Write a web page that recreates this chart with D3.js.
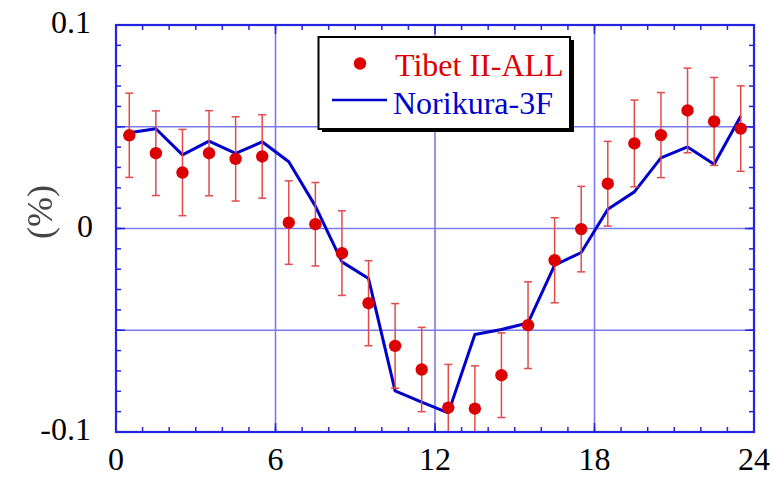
<!DOCTYPE html>
<html>
<head>
<meta charset="utf-8">
<script src="https://cdn.jsdelivr.net/npm/d3@7"></script>
<style>
  body { margin: 0; background: #fff; }
  svg { display: block; }
  text { font-family: "Liberation Serif", "Times New Roman", serif; }
</style>
</head>
<body>
<svg></svg>
<script>
const hours = [0.5, 1.5, 2.5, 3.5, 4.5, 5.5, 6.5, 7.5, 8.5, 9.5, 10.5, 11.5,
    12.5, 13.5, 14.5, 15.5, 16.5, 17.5, 18.5, 19.5, 20.5, 21.5, 22.5, 23.5];
const tibet = [0.0458, 0.037, 0.0275, 0.037, 0.0342, 0.0354, 0.0029, 0.0021,
    -0.0121, -0.0367, -0.0577, -0.0693, -0.088, -0.0885, -0.0721, -0.0475,
    -0.0156, -0.0003, 0.022, 0.0418, 0.0459, 0.058, 0.0526, 0.0491];
const tibetErr = [0.0207, 0.0208, 0.0212, 0.0209, 0.0207, 0.0205, 0.0205, 0.0205,
    0.0208, 0.0209, 0.0208, 0.0207, 0.0212, 0.021, 0.0208, 0.0213,
    0.0209, 0.021, 0.0208, 0.0213, 0.0209, 0.0208, 0.0216, 0.021];
const norikura = [0.047, 0.049, 0.0362, 0.0429, 0.0369, 0.0426, 0.0328, 0.011,
    -0.0164, -0.0246, -0.0798, -0.0853, -0.0906, -0.0521, -0.0496, -0.0464,
    -0.018, -0.0118, 0.0095, 0.018, 0.0347, 0.0401, 0.0316, 0.0552];

const xTicks = [0, 6, 12, 18, 24];
const yTicks = [-0.1, -0.05, 0, 0.05, 0.1];
const yLabels = {'-0.1': '-0.1', '0': '0', '0.1': '0.1'};

const W = 782, H = 477;
const pLeft = 116, pRight = 754, pTop = 25, pBottom = 432;

const svg = d3.select('svg')
    .attr('width', W)
    .attr('height', H);

const x = d3.scaleLinear().domain([0, 24]).range([pLeft, pRight]);
const y = d3.scaleLinear().domain([-0.1, 0.1]).range([pBottom, pTop]);

const gridColor = '#7b7bee';
const frameColor = '#2424e0';

// grid
svg.append('g').selectAll('line')
    .data([6, 12, 18])
    .join('line')
    .attr('x1', d => x(d)).attr('x2', d => x(d))
    .attr('y1', pTop).attr('y2', pBottom)
    .attr('stroke', gridColor).attr('stroke-width', 1.6);
svg.append('g').selectAll('line')
    .data([-0.05, 0, 0.05])
    .join('line')
    .attr('x1', pLeft).attr('x2', pRight)
    .attr('y1', d => y(d)).attr('y2', d => y(d))
    .attr('stroke', gridColor).attr('stroke-width', 1.6);

// ticks (inward) on all four sides
const minorX = d3.range(0, 25, 1);
const minorY = d3.range(-10, 11, 1).map(d => d / 100);

function tickSet(side, vals, size) {
    const sel = svg.append('g').selectAll('line').data(vals).join('line')
        .attr('stroke', frameColor).attr('stroke-width', 1.5);
    if (side === 'bottom') sel.attr('x1', d => x(d)).attr('x2', d => x(d)).attr('y1', pBottom).attr('y2', pBottom - size);
    if (side === 'top') sel.attr('x1', d => x(d)).attr('x2', d => x(d)).attr('y1', pTop).attr('y2', pTop + size);
    if (side === 'left') sel.attr('y1', d => y(d)).attr('y2', d => y(d)).attr('x1', pLeft).attr('x2', pLeft + size);
    if (side === 'right') sel.attr('y1', d => y(d)).attr('y2', d => y(d)).attr('x1', pRight).attr('x2', pRight - size);
}
['bottom', 'top'].forEach(s => { tickSet(s, minorX, 5); tickSet(s, xTicks, 9); });
['left', 'right'].forEach(s => { tickSet(s, minorY, 5); tickSet(s, yTicks, 9); });

// plot clip
svg.append('clipPath').attr('id', 'plot')
    .append('rect').attr('x', pLeft).attr('y', pTop)
    .attr('width', pRight - pLeft).attr('height', pBottom - pTop);

const plot = svg.append('g').attr('clip-path', 'url(#plot)');

// Norikura line
plot.append('path')
    .datum(hours.map((h, i) => [h, norikura[i]]))
    .attr('fill', 'none')
    .attr('stroke', '#0000cc')
    .attr('stroke-width', 3)
    .attr('stroke-linejoin', 'round')
    .attr('d', d3.line().x(d => x(d[0])).y(d => y(d[1])));

// error bars
const errColor = '#e24a4a';
const eb = plot.append('g').selectAll('g')
    .data(hours.map((h, i) => ({h, v: tibet[i], e: tibetErr[i]})))
    .join('g');
eb.append('line')
    .attr('x1', d => x(d.h)).attr('x2', d => x(d.h))
    .attr('y1', d => y(d.v + d.e)).attr('y2', d => y(d.v - d.e))
    .attr('stroke', errColor).attr('stroke-width', 1.5);
eb.append('line')
    .attr('x1', d => x(d.h) - 4).attr('x2', d => x(d.h) + 4)
    .attr('y1', d => y(d.v + d.e)).attr('y2', d => y(d.v + d.e))
    .attr('stroke', errColor).attr('stroke-width', 1.5);
eb.append('line')
    .attr('x1', d => x(d.h) - 4).attr('x2', d => x(d.h) + 4)
    .attr('y1', d => y(d.v - d.e)).attr('y2', d => y(d.v - d.e))
    .attr('stroke', errColor).attr('stroke-width', 1.5);

// Tibet dots
plot.append('g').selectAll('circle')
    .data(hours.map((h, i) => [h, tibet[i]]))
    .join('circle')
    .attr('cx', d => x(d[0]))
    .attr('cy', d => y(d[1]))
    .attr('r', 6.2)
    .attr('fill', '#dd0000');

// frame
svg.append('rect')
    .attr('x', pLeft).attr('y', pTop)
    .attr('width', pRight - pLeft).attr('height', pBottom - pTop)
    .attr('fill', 'none')
    .attr('stroke', frameColor)
    .attr('stroke-width', 2.2);

// tick labels
svg.append('g').selectAll('text')
    .data(xTicks)
    .join('text')
    .attr('x', d => x(d))
    .attr('y', 470)
    .attr('text-anchor', 'middle')
    .attr('font-size', 32)
    .attr('fill', '#000')
    .text(d => d);

svg.append('g').selectAll('text')
    .data(yTicks.filter(d => yLabels[String(d)] !== undefined))
    .join('text')
    .attr('x', d => d === 0 ? 93 : 91)
    .attr('y', d => y(d) + 8)
    .attr('text-anchor', 'end')
    .attr('font-size', 32)
    .attr('fill', '#000')
    .text(d => yLabels[String(d)]);

// y axis title (blurry gray)
svg.append('filter').attr('id', 'blur')
    .append('feGaussianBlur').attr('stdDeviation', 0.6);
svg.append('text')
    .attr('transform', 'translate(52,212) rotate(-90)')
    .attr('text-anchor', 'middle')
    .attr('font-size', 36)
    .attr('fill', '#444')
    .attr('filter', 'url(#blur)')
    .text('(%)');

// legend
const lg = svg.append('g');
lg.append('rect')
    .attr('x', 322).attr('y', 40)
    .attr('width', 252).attr('height', 92)
    .attr('fill', '#000');
lg.append('rect')
    .attr('x', 318.5).attr('y', 37)
    .attr('width', 251.5).attr('height', 92)
    .attr('fill', '#fff')
    .attr('stroke', '#000')
    .attr('stroke-width', 2);
lg.append('circle')
    .attr('cx', 360).attr('cy', 63.5).attr('r', 6.2)
    .attr('fill', '#dd0000');
lg.append('text')
    .attr('x', 395).attr('y', 76)
    .attr('font-size', 32)
    .attr('fill', '#dd0000')
    .text('Tibet II-ALL');
lg.append('line')
    .attr('x1', 332).attr('x2', 387)
    .attr('y1', 100).attr('y2', 100)
    .attr('stroke', '#0000cc').attr('stroke-width', 2.5);
lg.append('text')
    .attr('x', 393).attr('y', 113.5)
    .attr('font-size', 32)
    .attr('fill', '#0000cc')
    .text('Norikura-3F');
</script>
</body>
</html>
